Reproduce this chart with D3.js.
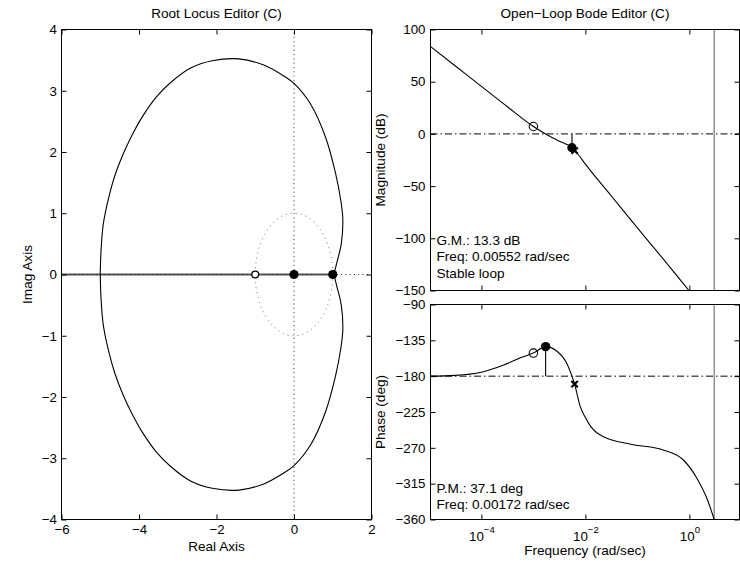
<!DOCTYPE html>
<html><head><meta charset="utf-8">
<script src="https://cdn.jsdelivr.net/npm/d3@7"></script>
<style>
body{margin:0;background:#fff;}
svg{display:block;font-family:"Liberation Sans",Arial,Helvetica,sans-serif;}
</style></head><body>
<svg id="c" width="740" height="567"></svg>
<script>
// ---------------- DATA ----------------
const rlXTicks = [-6, -4, -2, 0, 2];
const rlYTicks = [-4, -3, -2, -1, 0, 1, 2, 3, 4];
const locusUpperRe = [-5.00,-4.98,-4.92,-4.78,-4.62,-4.42,-4.20,-3.92,-3.55,-3.19,-2.67,-2.11,-1.42,-0.78,-0.26,0.00,0.43,0.81,1.07,1.21,1.26,1.22,1.10,1.03];
const locusUpperIm = [0.00,0.39,0.83,1.26,1.62,1.95,2.25,2.57,2.90,3.13,3.37,3.49,3.52,3.42,3.24,3.12,2.78,2.25,1.66,1.20,0.90,0.50,0.18,0.00];
const locusLowerRe = [-5.00,-4.98,-4.92,-4.78,-4.62,-4.42,-4.20,-3.92,-3.55,-3.19,-2.67,-2.11,-1.42,-0.78,-0.26,0.00,0.43,0.81,1.07,1.21,1.26,1.22,1.10,1.03];
const locusLowerIm = [0.00,-0.39,-0.83,-1.26,-1.62,-1.95,-2.25,-2.57,-2.90,-3.13,-3.37,-3.49,-3.52,-3.42,-3.24,-3.12,-2.78,-2.25,-1.66,-1.20,-0.90,-0.50,-0.18,0.00];
const realAxisLocus = [-6, 1];
const rlZeros = [-1];
const rlClosedPoles = [0, 1];
const unitCircleRadius = 1;

const bodeXTicks = [1e-4, 1e-2, 1];
const magTicks = [-150, -100, -50, 0, 50, 100];
const phaseTicks = [-360, -315, -270, -225, -180, -135, -90];
const magFreq = [1e-5, 3.16e-5, 1e-4, 3.16e-4, 1e-3, 1.72e-3, 3.16e-3, 5.52e-3, 7.08e-3, 1e-2, 3.16e-2, 0.1, 0.316, 1, 3.16];
const magDb   = [84.5, 65, 45.5, 26, 7.1, 0, -7, -13.3, -19, -29, -59.5, -90, -120, -150.5, -181];
const phaseFreq = [1e-5, 3.16e-5, 1e-4, 2.69e-4, 5.62e-4, 1e-3, 1.72e-3, 2.88e-3, 4.47e-3, 5.52e-3, 6.2e-3, 7.94e-3, 1e-2, 1.26e-2, 1.66e-2, 2.24e-2, 7.41e-2, 0.324, 0.776, 1.41, 2.19, 3.0];
const phaseDeg  = [-180, -179, -175, -166, -157, -151, -142.9, -149, -165, -180, -190, -218, -232, -243, -251, -256, -265.4, -273, -285.6, -308.7, -334, -360];
const compZeroFreq = [1e-3], compZeroMag = [7.1], compZeroPhase = [-151];
const compPoleFreq = [6.2e-3], compPoleMag = [-16], compPolePhase = [-190];
const gmFreq = 0.00552, gmDb = -13.3;
const pmFreq = 0.00172, pmDeg = -142.9;
const nyquistFreq = 3.0;
const gmText = ["G.M.: 13.3 dB", "Freq: 0.00552 rad/sec", "Stable loop"];
const pmText = ["P.M.: 37.1 deg", "Freq: 0.00172 rad/sec"];

// ---------------- DRAW ----------------
const svg = d3.select("#c");
const FS = "13.3px", FL = "13.6px";
const dashDot = "7,3,1.5,3";

function box(g, x0, y0, x1, y1) {
  g.append("rect").attr("x", x0).attr("y", y0).attr("width", x1 - x0).attr("height", y1 - y0)
    .attr("fill", "none").attr("stroke", "#000").attr("stroke-width", 1);
}
function styleAxis(g, showText) {
  g.select(".domain").remove();
  g.selectAll(".tick line").attr("stroke", "#000");
  g.attr("font-family", null).attr("font-size", FS);
  g.selectAll("text").attr("fill", "#000");
  if (!showText) g.selectAll("text").remove();
}
function clip(id, x0, y0, x1, y1) {
  svg.append("clipPath").attr("id", id).append("rect")
    .attr("x", x0).attr("y", y0).attr("width", x1 - x0).attr("height", y1 - y0);
}

// ===== Root locus =====
const RL = {x0: 61.5, x1: 371.5, y0: 29.5, y1: 519.5};
const rx = d3.scaleLinear().domain([-6, 2]).range([RL.x0, RL.x1]);
const ry = d3.scaleLinear().domain([-4, 4]).range([RL.y1, RL.y0]);
clip("cRL", RL.x0, RL.y0, RL.x1, RL.y1);
const gRL = svg.append("g").attr("clip-path", "url(#cRL)");

gRL.append("line").attr("x1", rx(0)).attr("x2", rx(0)).attr("y1", ry(-4)).attr("y2", ry(4))
  .attr("stroke", "#333").attr("stroke-dasharray", "1,3.3");
gRL.append("ellipse").attr("cx", rx(0)).attr("cy", ry(0))
  .attr("rx", rx(unitCircleRadius) - rx(0)).attr("ry", ry(0) - ry(unitCircleRadius))
  .attr("fill", "none").attr("stroke", "#666").attr("stroke-dasharray", "1,4");
gRL.append("line").attr("x1", rx(realAxisLocus[0])).attr("x2", rx(realAxisLocus[1]))
  .attr("y1", ry(0)).attr("y2", ry(0)).attr("stroke", "#555").attr("stroke-width", 2);
gRL.append("line").attr("x1", rx(-6)).attr("x2", rx(2)).attr("y1", ry(0)).attr("y2", ry(0))
  .attr("stroke", "#222").attr("stroke-dasharray", "1,3.3");

const locLine = d3.line().x(d => rx(d[0])).y(d => ry(d[1])).curve(d3.curveCatmullRom.alpha(0.5));
gRL.append("path").attr("d", locLine(d3.zip(locusUpperRe, locusUpperIm)))
  .attr("fill", "none").attr("stroke", "#000").attr("stroke-width", 1.1);
gRL.append("path").attr("d", locLine(d3.zip(locusLowerRe, locusLowerIm)))
  .attr("fill", "none").attr("stroke", "#000").attr("stroke-width", 1.1);

gRL.selectAll("circle.z").data(rlZeros).join("circle").attr("class", "z")
  .attr("cx", d => rx(d)).attr("cy", ry(0)).attr("r", 3.4)
  .attr("fill", "#fff").attr("stroke", "#000").attr("stroke-width", 1.3);
gRL.selectAll("circle.p").data(rlClosedPoles).join("circle").attr("class", "p")
  .attr("cx", d => rx(d)).attr("cy", ry(0)).attr("r", 4.6).attr("fill", "#000");

box(svg, RL.x0, RL.y0, RL.x1, RL.y1);
let a;
a = svg.append("g").attr("transform", `translate(0,${RL.y1})`)
  .call(d3.axisBottom(rx).tickValues(rlXTicks).tickSize(-5).tickSizeOuter(0));
styleAxis(a, true);
a.selectAll("text").attr("dy", null).attr("y", 14.5);
a = svg.append("g").attr("transform", `translate(0,${RL.y0})`)
  .call(d3.axisTop(rx).tickValues(rlXTicks).tickSize(-5).tickSizeOuter(0));
styleAxis(a, false);
a = svg.append("g").attr("transform", `translate(${RL.x0},0)`)
  .call(d3.axisLeft(ry).tickValues(rlYTicks).tickSize(-5).tickSizeOuter(0).tickPadding(5));
styleAxis(a, true);
a.selectAll("text").attr("x", -4.5);
a = svg.append("g").attr("transform", `translate(${RL.x1},0)`)
  .call(d3.axisRight(ry).tickValues(rlYTicks).tickSize(-5).tickSizeOuter(0));
styleAxis(a, false);

svg.append("text").attr("x", (RL.x0 + RL.x1) / 2).attr("y", 17.5).attr("text-anchor", "middle")
  .attr("font-size", FL).text("Root Locus Editor (C)");
svg.append("text").attr("x", (RL.x0 + RL.x1) / 2).attr("y", 551).attr("text-anchor", "middle")
  .attr("font-size", FL).text("Real Axis");
svg.append("text").attr("transform", `translate(31.5,${ry(0)}) rotate(-90)`).attr("text-anchor", "middle")
  .attr("font-size", FL).text("Imag Axis");

// ===== Bode =====
const BX = {x0: 430.5, x1: 739.5};
const MG = {y0: 29.5, y1: 290.5};
const PH = {y0: 304.5, y1: 519.5};
const bx = d3.scaleLog().domain([1.05e-5, 9.2]).range([BX.x0, BX.x1]);
const my = d3.scaleLinear().domain([-150, 100]).range([MG.y1, MG.y0]);
const py = d3.scaleLinear().domain([-360, -90]).range([PH.y1, PH.y0]);
clip("cMG", BX.x0, MG.y0, BX.x1, MG.y1);
clip("cPH", BX.x0, PH.y0, BX.x1, PH.y1);

function cross(g, cx, cy) {
  const s = 3.2;
  g.append("path").attr("d", `M${cx - s},${cy - s}L${cx + s},${cy + s}M${cx - s},${cy + s}L${cx + s},${cy - s}`)
    .attr("stroke", "#000").attr("stroke-width", 2.2).attr("fill", "none");
}

// Magnitude
const gM = svg.append("g").attr("clip-path", "url(#cMG)");
gM.append("line").attr("x1", BX.x0).attr("x2", BX.x1).attr("y1", my(0)).attr("y2", my(0))
  .attr("stroke", "#000").attr("stroke-dasharray", dashDot);
gM.append("line").attr("x1", bx(nyquistFreq)).attr("x2", bx(nyquistFreq)).attr("y1", MG.y0).attr("y2", MG.y1)
  .attr("stroke", "#777").attr("stroke-width", 1.2);
gM.append("path").attr("d", d3.line().x(d => bx(d[0])).y(d => my(d[1])).curve(d3.curveMonotoneX)(d3.zip(magFreq, magDb)))
  .attr("fill", "none").attr("stroke", "#000").attr("stroke-width", 1.1);
gM.append("line").attr("x1", bx(gmFreq)).attr("x2", bx(gmFreq)).attr("y1", my(0)).attr("y2", my(gmDb))
  .attr("stroke", "#000").attr("stroke-width", 1.1);
compPoleFreq.forEach((f, i) => cross(gM, bx(f), my(compPoleMag[i])));
gM.append("circle").attr("cx", bx(gmFreq)).attr("cy", my(gmDb)).attr("r", 4.7).attr("fill", "#000");
compZeroFreq.forEach((f, i) => gM.append("circle").attr("cx", bx(f)).attr("cy", my(compZeroMag[i])).attr("r", 4.2)
  .attr("fill", "none").attr("stroke", "#000").attr("stroke-width", 1.1));

box(svg, BX.x0, MG.y0, BX.x1, MG.y1);
a = svg.append("g").attr("transform", `translate(0,${MG.y1})`)
  .call(d3.axisBottom(bx).tickValues(bodeXTicks).tickSize(-5).tickSizeOuter(0));
styleAxis(a, false);
a = svg.append("g").attr("transform", `translate(0,${MG.y0})`)
  .call(d3.axisTop(bx).tickValues(bodeXTicks).tickSize(-5).tickSizeOuter(0));
styleAxis(a, false);
a = svg.append("g").attr("transform", `translate(${BX.x0},0)`)
  .call(d3.axisLeft(my).tickValues(magTicks).tickSize(-5).tickSizeOuter(0));
styleAxis(a, true);
a.selectAll("text").attr("x", -5);
a = svg.append("g").attr("transform", `translate(${BX.x1},0)`)
  .call(d3.axisRight(my).tickValues(magTicks).tickSize(-5).tickSizeOuter(0));
styleAxis(a, false);
gmText.forEach((t, i) => svg.append("text").attr("x", 436.5).attr("y", 245 + i * 16.3)
  .attr("font-size", FL).text(t));

// Phase
const gP = svg.append("g").attr("clip-path", "url(#cPH)");
gP.append("line").attr("x1", BX.x0).attr("x2", BX.x1).attr("y1", py(-180)).attr("y2", py(-180))
  .attr("stroke", "#000").attr("stroke-dasharray", dashDot);
gP.append("line").attr("x1", bx(nyquistFreq)).attr("x2", bx(nyquistFreq)).attr("y1", PH.y0).attr("y2", PH.y1)
  .attr("stroke", "#777").attr("stroke-width", 1.2);
gP.append("path").attr("d", d3.line().x(d => bx(d[0])).y(d => py(d[1])).curve(d3.curveMonotoneX)(d3.zip(phaseFreq, phaseDeg)))
  .attr("fill", "none").attr("stroke", "#000").attr("stroke-width", 1.1);
gP.append("line").attr("x1", bx(pmFreq)).attr("x2", bx(pmFreq)).attr("y1", py(-180)).attr("y2", py(pmDeg))
  .attr("stroke", "#000").attr("stroke-width", 1.1);
compPoleFreq.forEach((f, i) => cross(gP, bx(f), py(compPolePhase[i])));
gP.append("circle").attr("cx", bx(pmFreq)).attr("cy", py(pmDeg)).attr("r", 4.7).attr("fill", "#000");
compZeroFreq.forEach((f, i) => gP.append("circle").attr("cx", bx(f)).attr("cy", py(compZeroPhase[i])).attr("r", 4.2)
  .attr("fill", "none").attr("stroke", "#000").attr("stroke-width", 1.1));

box(svg, BX.x0, PH.y0, BX.x1, PH.y1);
a = svg.append("g").attr("transform", `translate(0,${PH.y1})`)
  .call(d3.axisBottom(bx).tickValues(bodeXTicks).tickSize(-5).tickSizeOuter(0));
styleAxis(a, true);
a.selectAll(".tick text").each(function(d) {
  const t = d3.select(this);
  const e = Math.round(Math.log10(d));
  t.text(null).attr("dy", null).attr("y", 21.5);
  t.append("tspan").text("10");
  t.append("tspan").attr("dy", -8).attr("font-size", "9.5px").text(String(e).replace("-", "\u2212"));
});
a = svg.append("g").attr("transform", `translate(0,${PH.y0})`)
  .call(d3.axisTop(bx).tickValues(bodeXTicks).tickSize(-5).tickSizeOuter(0));
styleAxis(a, false);
a = svg.append("g").attr("transform", `translate(${BX.x0},0)`)
  .call(d3.axisLeft(py).tickValues(phaseTicks).tickSize(-5).tickSizeOuter(0));
styleAxis(a, true);
a.selectAll("text").attr("x", -5);
a = svg.append("g").attr("transform", `translate(${BX.x1},0)`)
  .call(d3.axisRight(py).tickValues(phaseTicks).tickSize(-5).tickSizeOuter(0));
styleAxis(a, false);
pmText.forEach((t, i) => svg.append("text").attr("x", 436.5).attr("y", 493 + i * 16.3)
  .attr("font-size", FL).text(t));

svg.append("text").attr("x", 585).attr("y", 17.5).attr("text-anchor", "middle")
  .attr("font-size", FL).text("Open\u2212Loop Bode Editor (C)");
svg.append("text").attr("x", 585).attr("y", 555).attr("text-anchor", "middle")
  .attr("font-size", FL).text("Frequency (rad/sec)");
svg.append("text").attr("transform", `translate(384.5,${(MG.y0 + MG.y1) / 2}) rotate(-90)`).attr("text-anchor", "middle")
  .attr("font-size", FL).text("Magnitude (dB)");
svg.append("text").attr("transform", `translate(384.5,${(PH.y0 + PH.y1) / 2}) rotate(-90)`).attr("text-anchor", "middle")
  .attr("font-size", FL).text("Phase (deg)");
</script>
</body></html>
